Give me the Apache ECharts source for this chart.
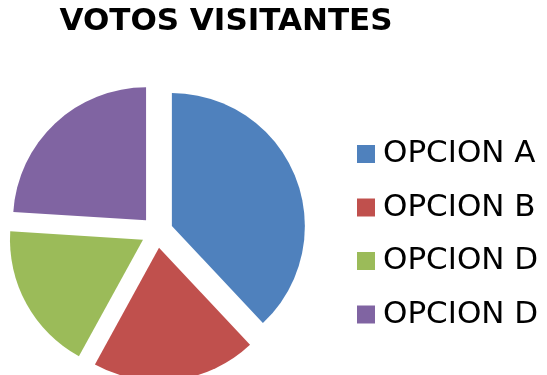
<!DOCTYPE html>
<html>
<head>
<meta charset="utf-8">
<script src="https://cdn.jsdelivr.net/npm/echarts@6/dist/echarts.min.js"></script>
<style>
  html, body { margin: 0; padding: 0; background: #fff; }
  #chart { width: 547px; height: 375px; }
</style>
</head>
<body>
<div id="chart"></div>
<script>
// Votes by option
const categories = ['OPCION A', 'OPCION B', 'OPCION D', 'OPCION D '];
const votes = [38, 20, 18, 24];
const colors = ['#4F81BD', '#C0504D', '#9BBB59', '#8064A2'];

const chart = echarts.init(document.getElementById('chart'), null, { renderer: 'canvas' });

const data = categories.map((name, i) => ({
  name: name,
  value: votes[i],
  selected: true,
  itemStyle: { color: colors[i] }
}));

chart.setOption({
  animation: false,
  title: {
    text: 'VOTOS VISITANTES',
    left: 221,
    textAlign: 'center',
    top: 1,
    textStyle: {
      fontFamily: 'DejaVu Sans',
      fontWeight: 'bold',
      fontSize: 31,
      color: '#000'
    }
  },
  legend: {
    orient: 'vertical',
    left: 357,
    top: 138,
    padding: 0,
    itemWidth: 18,
    itemHeight: 18,
    itemGap: 21.5,
    icon: 'rect',
    selectedMode: false,
    data: categories,
    formatter: name => name.trim(),
    textStyle: {
      fontFamily: 'DejaVu Sans',
      fontSize: 31,
      lineHeight: 32,
      color: '#000',
      padding: [0, 0, 0, 3]
    }
  },
  series: [{
    type: 'pie',
    center: [157, 232],
    radius: 133,
    startAngle: 90,
    clockwise: true,
    selectedMode: 'multiple',
    selectedOffset: 16,
    label: { show: false },
    labelLine: { show: false },
    emphasis: { disabled: true },
    itemStyle: { borderWidth: 0 },
    data: data
  }]
});
</script>
</body>
</html>
